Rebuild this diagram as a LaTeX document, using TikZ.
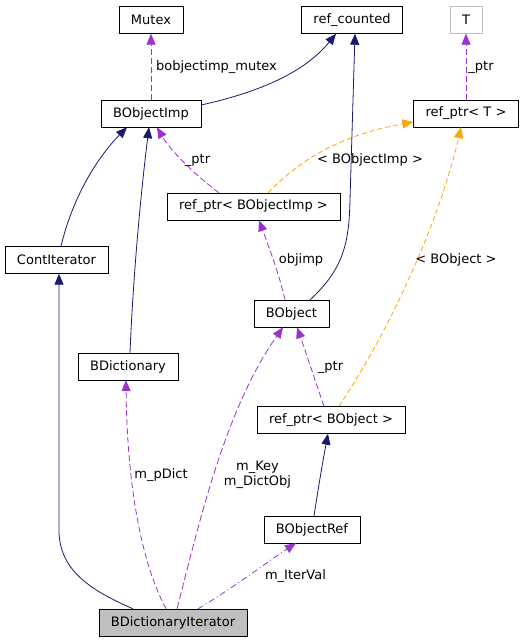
\documentclass[tikz,border=0pt]{standalone}
\usepackage{tikz}
\usepackage{xcolor}
\usepackage{fontspec}
\usetikzlibrary{calc,arrows.meta}
\setmainfont{DejaVu Sans}
\definecolor{inheritcolor}{HTML}{191970}
\definecolor{usecolor}{HTML}{9A32CD}
\definecolor{templcolor}{HTML}{FFA500}
\definecolor{grayedge}{HTML}{BFBFBF}
\colorlet{currentfill}{grayedge}
\tikzstyle{classbox} =[
    draw=black,
    rectangle,
    inner xsep=12pt,
    minimum height=27pt,
    font=\fontsize{13}{15}\selectfont
    ]
\tikzstyle{edgelabel} =[
    inner sep=0pt,
    align=center,
    font=\fontsize{13}{15.5}\selectfont
    ]
\tikzstyle{inherit} =[
    draw=inheritcolor,
    line width=0.8pt,
    -{Triangle[length=11pt,width=9pt]}
    ]
\tikzstyle{uses} =[
    draw=usecolor,
    line width=0.8pt,
    dash pattern=on 6pt off 3pt,
    -{Triangle[length=11pt,width=9pt]},
    usecolor
    ]
\tikzstyle{templ} =[
    draw=templcolor,
    line width=0.8pt,
    dash pattern=on 5pt off 3pt,
    -{Triangle[length=11pt,width=9pt]},
    templcolor
    ]

\begin{document}
\begin{tikzpicture}[x=1pt,y=-1pt]
\useasboundingbox (0,0) rectangle (527,643);

% classes
\node[classbox] (mutex) at (151,20) {Mutex};
\node[classbox] (refcounted) at (352,20) {ref\_counted};
\node[classbox, draw=grayedge] (tparam) at (466,20) {T};
\node[classbox] (bobjimp) at (151,113.5) {BObjectImp};
\node[classbox] (refptrt) at (466,113.5) {ref\_ptr< T >};
\node[classbox] (refptrimp) at (253.5,206.5) {ref\_ptr< BObjectImp >};
\node[classbox] (contiter) at (56.5,260) {ContIterator};
\node[classbox] (bobject) at (291.5,313.5) {BObject};
\node[classbox] (bdict) at (128,366.5) {BDictionary};
\node[classbox] (refptrobj) at (331,420) {ref\_ptr< BObject >};
\node[classbox] (bobjref) at (312,529.5) {BObjectRef};
\node[classbox, fill=currentfill] (bdictiter) at (173,622.5) {BDictionaryIterator};

% inheritance
\draw[inherit] ([yshift=8.5pt]bobjimp.east) .. controls (260,92) and (305,72) .. ([xshift=-16pt]refcounted.south);
\draw[inherit] ([xshift=18.5pt]bobject.north) .. controls (345,268) and (349,240) .. (350,200) -- ([xshift=3pt]refcounted.south);
\draw[inherit] ([xshift=4.5pt]contiter.north) .. controls (72,200) and (95,160) .. ([xshift=-24pt]bobjimp.south);
\draw[inherit] ([xshift=2pt]bdict.north) .. controls (133,280) and (140,200) .. ([xshift=-2pt]bobjimp.south);
\draw[inherit] ([xshift=2pt]bobjref.north) .. controls (318,490) and (323,460) .. ([xshift=-3pt]refptrobj.south);
\draw[inherit] ([xshift=-40pt]bdictiter.north) .. controls (90,590) and (59,570) .. (59,530) -- ([xshift=2.5pt]contiter.south);

% members
\draw[uses] (bobjimp.north) -- (mutex.south);
\node[edgelabel] (lmutex) at (216.5,67) {bobjectimp\_mutex};
\draw[uses] (refptrt.north) -- (tparam.south);
\node[edgelabel] (lptrt) at (481,67) {\_ptr};
\draw[uses] ([xshift=-34.5pt]refptrimp.north) .. controls (195,175) and (170,150) .. ([xshift=6pt]bobjimp.south);
\node[edgelabel] (lptrimp) at (197.5,160) {\_ptr};
\draw[uses] ([xshift=-6.5pt]bobject.north) .. controls (278,270) and (268,245) .. ([xshift=5.5pt]refptrimp.south);
\node[edgelabel] (lobjimp) at (301,260) {objimp};
\draw[uses] ([xshift=-7pt]refptrobj.north) .. controls (315,380) and (305,350) .. ([xshift=5.5pt]bobject.south);
\node[edgelabel] (lptrobj) at (330.5,367) {\_ptr};
\draw[uses] ([xshift=-7pt]bdictiter.north) .. controls (140,560) and (127,480) .. ([xshift=-2pt]bdict.south);
\node[edgelabel] (lpdict) at (161,475) {m\_pDict};
\draw[uses, dash pattern=on 7pt off 3pt] ([xshift=4pt]bdictiter.north) .. controls (200,520) and (225,410) .. ([xshift=-8.5pt]bobject.south);
\node[edgelabel] (lkey) at (257.5,475) {m\_Key\\m\_DictObj};
\draw[uses, dash pattern=on 6pt off 3pt on 1pt off 3pt] ([xshift=25pt]bdictiter.north) .. controls (230,590) and (270,560) .. ([xshift=-16pt]bobjref.south);
\node[edgelabel] (literval) at (295.5,576) {m\_IterVal};

% template instances
\draw[templ] ([xshift=14.5pt]refptrimp.north) .. controls (300,160) and (340,135) .. ([yshift=-8.5pt]refptrt.west);
\node[edgelabel] (limp) at (370,160) {< BObjectImp >};
\draw[templ] ([xshift=8pt]refptrobj.north) .. controls (390,330) and (440,220) .. ([xshift=-5pt]refptrt.south);
\node[edgelabel] (lobj) at (456,260) {< BObject >};
\end{tikzpicture}
\end{document}
